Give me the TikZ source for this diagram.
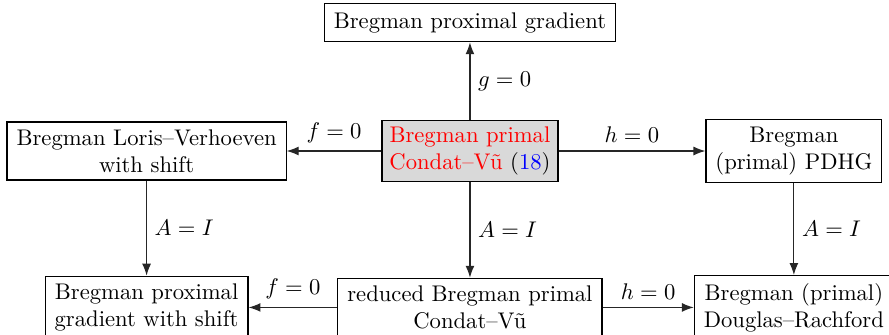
\documentclass[tikz,border=0pt]{standalone}
\usepackage{amsmath}
\usetikzlibrary{arrows.meta,positioning}
\definecolor{mainFill}{gray}{0.85}
\newcommand{\eqnum}[1]{(\textcolor{blue}{#1})}

\begin{document}
\begin{tikzpicture}[
  >=Latex,
  method/.style={
    draw=black,
    text=black,
    align=center,
    line width=0.5pt,
    inner xsep=4.2pt,
    inner ysep=3.3pt
  },
  main/.style={method, fill=mainFill, text=red, inner xsep=3.3pt, inner ysep=2.6pt},
  reduce/.style={->, draw=black!85, line width=0.5pt}
]
\useasboundingbox (0,0) rectangle (13.80,-5.20);

\node[main] (bcv) at (7.295,-2.344) {Bregman primal\\Condat--V\~u \textcolor{black}{\eqnum{18}}};
\node[method, minimum height=5.9mm, above=12.1mm of bcv] (bpg) {Bregman proximal gradient};
\node[method, left=14.7mm of bcv] (blv) {Bregman Loris--Verhoeven\\with shift};
\node[method, right=22.8mm of bcv] (pdhg) {Bregman\\(primal) PDHG};

\node[method, below=14.9mm of bcv] (rcv) {reduced Bregman primal\\Condat--V\~u};
\node[method] (bpgs) at (blv |- rcv) {Bregman proximal\\gradient with shift};
\node[method] (bdr) at (pdhg |- rcv) {Bregman (primal)\\Douglas--Rachford};

% Special cases of the primal Condat--Vu scheme.
\draw[reduce] (bcv) -- node[right] {$g=0$} (bpg);
\draw[reduce] (bcv) -- node[above] {$f=0$} (blv);
\draw[reduce] (bcv) -- node[above] {$h=0$} (pdhg);
\draw[reduce] (bcv) -- node[right] {$A=I$} (rcv);

% Taking the identity operator.
\draw[reduce] (blv) -- node[right] {$A=I$} (bpgs);
\draw[reduce] (pdhg) -- node[right] {$A=I$} (bdr);

% Special cases of the reduced scheme.
\draw[reduce] (rcv) -- node[above] {$f=0$} (bpgs);
\draw[reduce] (rcv) -- node[above] {$h=0$} (bdr);

\end{tikzpicture}
\end{document}
